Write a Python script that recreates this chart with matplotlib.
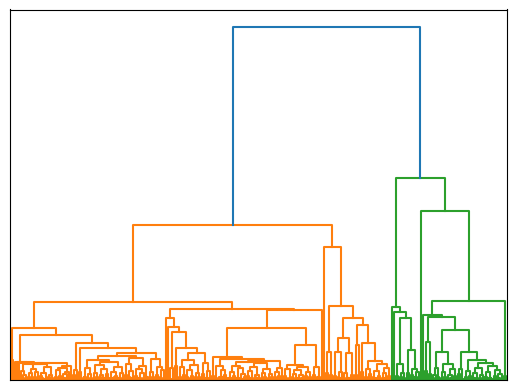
import matplotlib
matplotlib.use("Agg")
import matplotlib.pyplot as plt
import numpy as np

# Dendrogram encoded as merge heights between adjacent leaf groups (left-to-right order).
# The height between group i and group i+1 is the height of their lowest common ancestor.

# ---- orange cluster, left branch (L1) ----
gaps_orange_a = [5.6, 14.8,
                 5.2, 5.0, 4.9, 2.6, 1.4, 4.6, 0.5, 1.9, 3.1, 0.8, 2.3, 4.5, 1.0, 0.4,
                 2.0, 3.6, 0.9, 1.5, 4.7, 0.6, 2.7, 1.2, 3.3, 0.5, 1.8, 2.4, 4.0,
                 12.7, 1.3, 2.9, 10.5, 2.2, 9.2,
                 0.8, 3.4, 1.6, 0.5, 5.8, 2.1, 0.9, 4.2, 1.3, 0.6, 3.0, 1.8, 5.1, 0.7,
                 2.4, 1.1, 3.7, 0.5, 2.0,
                 6.9,
                 1.4, 4.6, 0.6, 2.5, 6.2, 1.0, 3.1, 0.7, 1.9, 4.0, 0.9,
                 7.6,
                 2.3, 0.8, 5.9, 1.5, 3.6, 0.6, 2.8]
# ---- orange cluster, middle branch (L2) ----
gaps_orange_b = [22.0,
                 17.6, 15.1, 3.5, 13.7, 4.0, 9.1,
                 0.9, 3.8, 1.5, 5.6, 0.6, 2.7, 1.2, 4.3, 0.8, 2.0,
                 7.7, 1.7, 4.9, 0.7, 2.5,
                 20.0,
                 1.2, 6.6, 3.9, 0.7,
                 0.8, 2.9, 1.4, 5.9, 0.5, 2.2, 1.0, 4.1, 0.6, 3.3, 1.7, 0.4, 5.2, 1.1, 2.6,
                 0.7, 3.8, 1.3, 0.5, 4.7, 2.0, 0.9, 3.0, 0.6, 1.6, 5.5, 0.8, 2.4, 1.2, 3.5,
                 14.8,
                 1.0, 3.2, 0.6, 4.3, 1.8, 0.7, 2.9, 1.3, 0.5, 3.7, 1.1, 2.2, 0.8,
                 9.9, 1.4, 3.8, 0.9,
                 19.7]
# ---- orange cluster, right branch (R) ----
gaps_orange_c = [43.8, 37.6,
                 2.1, 8.0, 1.3, 21.1,
                 1.1, 7.9, 0.6, 2.4, 12.0, 2.0, 0.7, 7.6, 1.5,
                 17.5, 1.5, 10.0, 15.6, 2.3, 10.4,
                 0.9, 3.1, 1.6, 5.4, 0.7, 2.5, 1.2, 4.4, 0.6, 2.0, 3.4, 1.0]
# ---- root link between clusters ----
gap_root = [100.0]
# ---- green cluster ----
gaps_green = [20.7, 19.4,
              1.2, 4.4, 0.8, 2.1, 17.5, 2.0, 8.6, 1.5, 3.2, 0.9, 2.4,
              57.3, 48.0, 18.4,
              2.5, 10.9, 1.8, 17.9,
              1.3, 3.5, 0.7, 8.0, 2.2, 0.9, 4.6, 1.4, 0.5, 3.0, 1.1,
              14.2, 1.6, 3.0, 7.9,
              0.8, 2.6, 1.2, 5.6, 0.5, 1.9, 3.3, 0.7, 1.4, 4.8, 0.9, 2.2, 0.6, 3.9,
              1.1, 2.8, 0.4, 1.7,
              22.5, 1.0]

# merge heights of the two leaves inside each leaf group (one per group)
pair_heights = [
    0.3, 0.6, 0.2, 0.8, 0.4, 0.5, 0.2, 0.7, 0.3, 0.9, 0.4, 0.2, 0.6, 0.3, 0.8, 0.5, 0.2, 0.4, 0.7, 0.3,
    0.5, 0.2, 0.9, 0.4, 0.3, 0.6, 0.2, 0.5, 0.8, 0.3, 0.4, 0.7, 0.2, 0.6, 0.3, 0.5, 0.9, 0.2, 0.4, 0.6,
    0.2, 0.7, 0.4, 0.3, 0.8, 0.5, 0.2, 0.6, 0.3, 0.4, 0.9, 0.2, 0.5, 0.7, 0.3, 0.4, 0.2, 0.8, 0.6, 0.3,
    0.4, 0.3, 0.6, 0.2, 0.5, 0.9, 0.3, 0.7, 0.2, 0.4, 0.6, 0.3, 0.8, 0.2, 0.5, 0.4, 0.7, 0.3, 0.2, 0.6,
    0.7, 0.2, 0.4, 0.5, 0.3, 0.8, 0.2, 0.6, 0.4, 0.3, 0.5, 0.9, 0.2, 0.4, 0.6, 0.3, 0.7, 0.2, 0.5, 0.4,
    0.3, 0.5, 0.8, 0.2, 0.6, 0.4, 0.3, 0.7, 0.2, 0.5, 0.4, 0.6, 0.3, 0.9, 0.2, 0.4, 0.5, 0.3, 0.8, 0.2,
    0.6, 0.4, 0.2, 0.7, 0.3, 0.5, 0.8, 0.2, 0.4, 0.6, 0.3, 0.2, 0.5, 0.7, 0.4, 0.3, 0.9, 0.2, 0.6, 0.5,
    0.2, 0.6, 0.3, 0.4, 0.7, 0.2, 0.5, 0.3, 0.8, 0.4, 0.2, 0.6, 0.5, 0.3, 0.7, 0.2, 0.4, 0.9, 0.3, 0.5,
    0.4, 0.2, 0.7, 0.5, 0.3, 0.6, 0.2, 0.8, 0.4, 0.3, 0.5, 0.2, 0.6, 0.4, 0.9, 0.3, 0.2, 0.5, 0.7, 0.4,
    0.5, 0.3, 0.2, 0.6, 0.8, 0.4, 0.3, 0.5, 0.2, 0.7, 0.4, 0.6, 0.2, 0.3, 0.5, 0.8, 0.4, 0.2, 0.6, 0.3,
    0.3, 0.7, 0.5, 0.2, 0.4, 0.6, 0.9, 0.3, 0.2, 0.5, 0.4, 0.7, 0.3, 0.6, 0.2, 0.4, 0.8, 0.5, 0.3, 0.2,
    0.6, 0.4, 0.3, 0.5, 0.2, 0.7, 0.4, 0.3, 0.8, 0.2, 0.5, 0.6, 0.3, 0.4, 0.2, 0.7, 0.5, 0.3, 0.6, 0.4,
]

group_gaps = gaps_orange_a + gaps_orange_b + gaps_orange_c + gap_root + gaps_green
gaps = []
for i, g in enumerate(group_gaps):
    gaps.append(pair_heights[i % len(pair_heights)])
    gaps.append(g)
gaps.append(pair_heights[len(group_gaps) % len(pair_heights)])

n = len(gaps) + 1
hmax = max(gaps)
threshold = 0.7 * hmax
palette = ["C1", "C2", "C3", "C4", "C5"]

links = []
counter = [0]


def build(lo, hi, color):
    if lo == hi:
        return 5.0 + 10.0 * lo, 0.0
    k = lo + int(np.argmax(gaps[lo:hi]))
    h = gaps[k]
    if h < threshold and color is None:
        color = palette[counter[0] % len(palette)]
        counter[0] += 1
    c = color if h < threshold else "C0"
    child_color = color if h < threshold else None
    xl, hl = build(lo, k, child_color)
    xr, hr = build(k + 1, hi, child_color)
    links.append(([xl, xl, xr, xr], [hl, h, h, hr], c))
    return (xl + xr) / 2.0, h


build(0, n - 1, None)

fig = plt.figure(figsize=(5.15, 3.89), dpi=100)
ax = fig.add_axes([10 / 515, 9 / 389, 497 / 515, 370.5 / 389])
for xs, ys, c in links:
    ax.plot(xs, ys, color=c, linewidth=1.5)
ax.set_xlim(0, 10 * n)
ax.set_ylim(0, 1.05 * hmax)
ax.set_xticks([])
ax.set_yticks([])
fig.savefig("out.png", dpi=100)
